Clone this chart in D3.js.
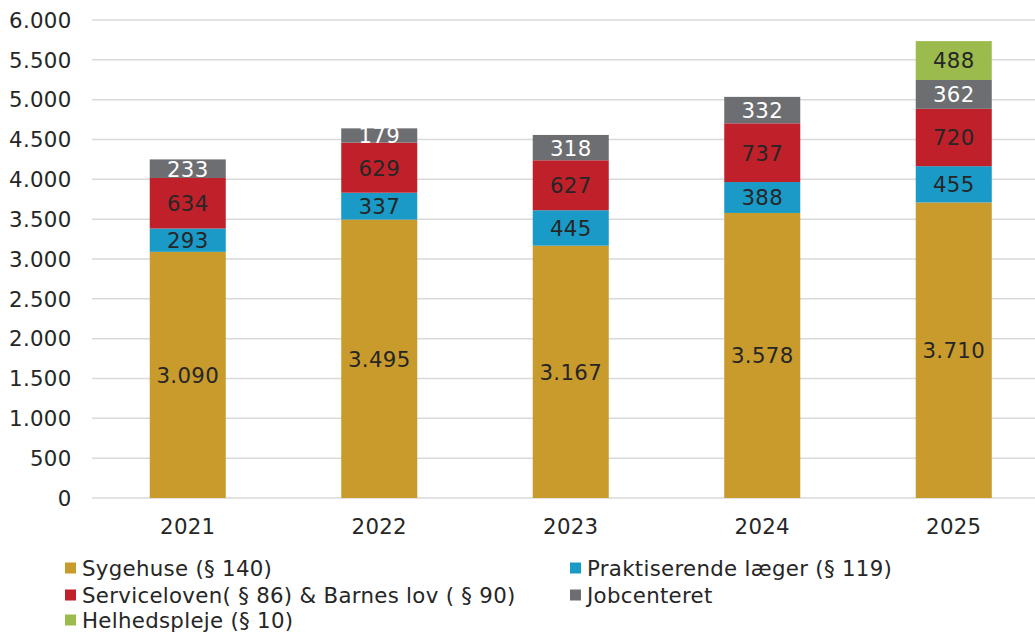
<!DOCTYPE html>
<html><head><meta charset="utf-8">
<script src="https://cdn.jsdelivr.net/npm/d3@7"></script>
<style>
body{margin:0;background:#fff;}
svg{display:block;font-family:"DejaVu Sans",Verdana,sans-serif;}
</style></head><body>
<svg id="c" width="1035" height="632"></svg>
<script>
const years = ["2021","2022","2023","2024","2025"];
const seriesNames = ["Sygehuse (§ 140)","Praktiserende læger (§ 119)","Serviceloven( § 86) & Barnes lov ( § 90)","Jobcenteret","Helhedspleje (§ 10)"];
const seriesColors = ["#C89B2C","#1A9AC6","#C0202A","#6D6E72","#9BBB4C"];
const labelColors = ["#262626","#262626","#262626","#ffffff","#262626"];
const sygehuse = [3090,3495,3167,3578,3710];
const praktiserende = [293,337,445,388,455];
const serviceloven = [634,629,627,737,720];
const jobcenteret = [233,179,318,332,362];
const helhedspleje = [0,0,0,0,488];
const yTicks = [0,500,1000,1500,2000,2500,3000,3500,4000,4500,5000,5500,6000];

const svg = d3.select("#c");
const fs = 21.3;
const ls = "0.3px";
const y = d3.scaleLinear().domain([0,6000]).range([498,20]);
const x = d3.scaleBand().domain(years).range([92,1049.5]).paddingInner(0.603).paddingOuter(0.3015);

const fmt = v => d3.format(",")(v).replace(/,/g,".");

// gridlines
svg.append("g").selectAll("line").data(yTicks).join("line")
  .attr("x1",92).attr("x2",1035)
  .attr("y1",d=>y(d)).attr("y2",d=>y(d))
  .attr("stroke","#d9d9d9").attr("stroke-width",1.5);

// y labels
svg.append("g").selectAll("text").data(yTicks).join("text")
  .attr("x",71.5).attr("y",d=>y(d)).attr("dy","0.36em")
  .attr("text-anchor","end").attr("font-size",fs).attr("letter-spacing",ls).attr("fill","#262626")
  .text(d=>fmt(d));

// x labels
svg.append("g").selectAll("text").data(years).join("text")
  .attr("x",d=>x(d)+x.bandwidth()/2).attr("y",534)
  .attr("text-anchor","middle").attr("font-size",fs).attr("letter-spacing",ls).attr("fill","#262626")
  .text(d=>d);

const rows = years.map((yr,i)=>({year:yr, s0:sygehuse[i], s1:praktiserende[i], s2:serviceloven[i], s3:jobcenteret[i], s4:helhedspleje[i]}));
const stack = d3.stack().keys(["s0","s1","s2","s3","s4"])(rows);

stack.forEach((layer,k)=>{
  const g = svg.append("g");
  const segs = layer.filter(d=>d[1]-d[0]>0);
  g.selectAll("rect").data(segs).join("rect")
    .attr("x",d=>x(d.data.year)).attr("width",x.bandwidth())
    .attr("y",d=>y(d[1])).attr("height",d=>y(d[0])-y(d[1]))
    .attr("fill",seriesColors[k]);
  g.selectAll("text").data(segs).join("text")
    .attr("x",d=>x(d.data.year)+x.bandwidth()/2)
    .attr("y",d=>(y(d[0])+y(d[1]))/2).attr("dy","0.37em")
    .attr("text-anchor","middle").attr("font-size",fs).attr("letter-spacing",ls).attr("fill",labelColors[k])
    .text(d=>fmt(d[1]-d[0]));
});

// legend
const legPos = [[65,568],[570,568],[65,595],[570,595],[65,620]];
const lg = svg.append("g");
seriesNames.forEach((name,k)=>{
  const [lx,ly] = legPos[k];
  lg.append("rect").attr("x",lx).attr("y",ly-5.5).attr("width",11).attr("height",11).attr("fill",seriesColors[k]);
  lg.append("text").attr("x",lx+17).attr("y",ly).attr("dy","0.36em")
    .attr("font-size",fs).attr("letter-spacing",ls).attr("fill","#262626").text(name);
});
</script>
</body></html>
